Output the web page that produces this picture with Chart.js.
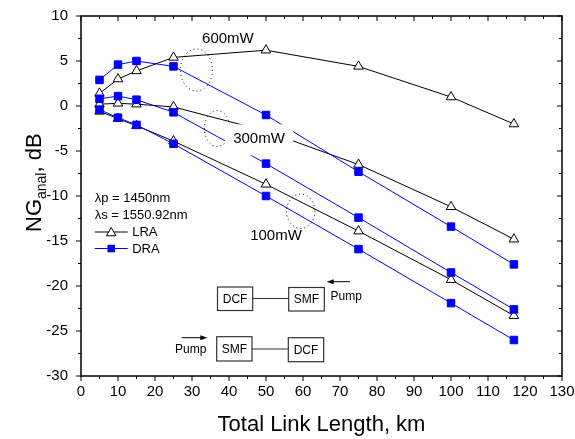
<!DOCTYPE html>
<html>
<head>
<meta charset="utf-8">
<script src="https://cdn.jsdelivr.net/npm/chart.js@4.4.1/dist/chart.umd.min.js"></script>
<style>
  html, body { margin: 0; padding: 0; background: #fff; }
  #wrap { width: 575px; height: 439px; }
</style>
</head>
<body>
<div id="wrap"><canvas id="ng" width="575" height="439"></canvas></div>
<script>
// link length (km) at which every curve was computed
const lengthKm = [5, 10, 15, 25, 50, 75, 100, 117];

// net gain, dB -- lumped (LRA) and distributed (DRA) Raman, per pump power
const lra600 = [1.4, 3.0, 3.9, 5.4, 6.2, 4.4, 1.0, -2.0];
const dra600 = [2.9, 4.6, 5.0, 4.4, -1.0, -7.3, -13.4, -17.6];
const lra300 = [0.2, 0.3, 0.2, -0.1, -2.8, -6.5, -11.2, -14.8];
const dra300 = [0.8, 1.1, 0.7, -0.7, -6.4, -12.4, -18.5, -22.6];
const lra100 = [-0.6, -1.4, -2.2, -3.9, -8.7, -13.9, -19.3, -23.3];
const dra100 = [-0.4, -1.3, -2.1, -4.2, -10.0, -15.9, -21.9, -26.0];

const xRange = [0, 130];
const yRange = [-30, 10];

const FONT = '"Liberation Sans", Arial, sans-serif';
const BLUE = '#0000ff';

function pts(vals) {
  return lengthKm.map((x, i) => ({ x: x, y: vals[i] }));
}

function dra(vals) {
  return {
    data: pts(vals), borderColor: BLUE, backgroundColor: BLUE,
    borderWidth: 1, pointStyle: 'rect', pointRadius: 5.3,
    pointBackgroundColor: BLUE, pointBorderColor: BLUE, pointBorderWidth: 1
  };
}
function lra(vals) {
  return {
    data: pts(vals), borderColor: '#000', backgroundColor: '#fff',
    borderWidth: 1, pointStyle: 'triangle', pointRadius: 5.5,
    pointBackgroundColor: '#fff', pointBorderColor: '#000', pointBorderWidth: 1
  };
}

// annotations anchored in data units
const powerLabels = [
  { text: '600mW', x: 39.7, y: 7.5, mask: false },
  { text: '300mW', x: 48.1, y: -3.6, mask: true },
  { text: '100mW', x: 52.7, y: -14.4, mask: false }
];
const ellipses = [
  { x: 31.2, y: 4.0, rx: 16, ry: 21 },
  { x: 36.8, y: -2.5, rx: 12.8, ry: 18 },
  { x: 59.4, y: -11.7, rx: 14.2, ry: 17.2 }
];

function triangle(ctx, x, y, r) {
  ctx.beginPath();
  for (let k = 0; k < 3; k++) {
    const a = k * 2 * Math.PI / 3;
    const px = x + Math.sin(a) * r, py = y - Math.cos(a) * r;
    if (k === 0) ctx.moveTo(px, py); else ctx.lineTo(px, py);
  }
  ctx.closePath();
  ctx.fillStyle = '#fff'; ctx.fill();
  ctx.strokeStyle = '#000'; ctx.lineWidth = 1; ctx.stroke();
}

function arrow(ctx, x1, x2, y) {
  const dir = Math.sign(x2 - x1);
  ctx.strokeStyle = '#000'; ctx.lineWidth = 1;
  ctx.beginPath(); ctx.moveTo(x1, y); ctx.lineTo(x2 - dir * 5, y); ctx.stroke();
  ctx.fillStyle = '#000';
  ctx.beginPath();
  ctx.moveTo(x2, y); ctx.lineTo(x2 - dir * 7, y - 2.5); ctx.lineTo(x2 - dir * 7, y + 2.5);
  ctx.closePath(); ctx.fill();
}

function box(ctx, x, y, w, h, label) {
  ctx.strokeStyle = '#333'; ctx.lineWidth = 1.2;
  ctx.strokeRect(x, y, w, h);
  ctx.fillStyle = '#000'; ctx.font = '12px ' + FONT;
  ctx.textAlign = 'center'; ctx.textBaseline = 'middle';
  ctx.fillText(label, x + w / 2, y + h / 2 + 0.5);
}

// scales report no label overflow so the plot box is set by padding alone
function noOverflow(s) {
  s.paddingTop = 0; s.paddingBottom = 0; s.paddingLeft = 0; s.paddingRight = 0;
}

const decorations = {
  id: 'decorations',
  afterDatasetsDraw(chart) {
    const ctx = chart.ctx, a = chart.chartArea;
    const sx = chart.scales.x, sy = chart.scales.y;
    const at = (x, y) => [sx.getPixelForValue(x), sy.getPixelForValue(y)];
    ctx.save();

    // dotted ellipses grouping each pump power
    ctx.setLineDash([1, 3]); ctx.lineWidth = 1; ctx.strokeStyle = '#000';
    ellipses.forEach(e => {
      const c = at(e.x, e.y);
      ctx.beginPath(); ctx.ellipse(c[0], c[1], e.rx, e.ry, 0, 0, 2 * Math.PI); ctx.stroke();
    });
    ctx.setLineDash([]);

    ctx.font = '15px ' + FONT; ctx.textAlign = 'center'; ctx.textBaseline = 'middle';
    powerLabels.forEach(l => {
      const c = at(l.x, l.y);
      if (l.mask) { ctx.fillStyle = '#fff'; ctx.fillRect(c[0] - 34, c[1] - 14, 68, 31); }
      ctx.fillStyle = '#000'; ctx.fillText(l.text, c[0], c[1]);
    });

    // legend block
    const lx = a.left + 13.7, ly = a.top;
    ctx.font = '13px ' + FONT; ctx.textAlign = 'left'; ctx.fillStyle = '#000';
    ctx.fillText('\u03bbp = 1450nm', lx, ly + 182.5);
    ctx.fillText('\u03bbs = 1550.92nm', lx, ly + 199.5);
    ctx.strokeStyle = '#000'; ctx.lineWidth = 1;
    ctx.beginPath(); ctx.moveTo(lx, ly + 216); ctx.lineTo(lx + 33, ly + 216); ctx.stroke();
    triangle(ctx, lx + 16.5, ly + 217, 5.5);
    ctx.fillStyle = '#000'; ctx.fillText('LRA', lx + 37.5, ly + 216.5);
    ctx.strokeStyle = BLUE;
    ctx.beginPath(); ctx.moveTo(lx, ly + 232.5); ctx.lineTo(lx + 33, ly + 232.5); ctx.stroke();
    ctx.fillStyle = BLUE; ctx.fillRect(lx + 12.8, ly + 228.8, 7.5, 7.5);
    ctx.fillStyle = '#000'; ctx.fillText('DRA', lx + 37.5, ly + 233);

    // span layouts: backward and forward pumping
    ctx.strokeStyle = '#333'; ctx.lineWidth = 1.2;
    ctx.beginPath(); ctx.moveTo(252.7, 298.5); ctx.lineTo(288.7, 298.5); ctx.stroke();
    box(ctx, 217.5, 287, 35.2, 23.5, 'DCF');
    box(ctx, 288.7, 287.5, 35.6, 23.5, 'SMF');
    arrow(ctx, 350, 326.7, 281.7);
    ctx.font = '12px ' + FONT; ctx.textAlign = 'left'; ctx.fillStyle = '#000';
    ctx.fillText('Pump', 330.5, 296.5);

    ctx.strokeStyle = '#333'; ctx.lineWidth = 1.2;
    ctx.beginPath(); ctx.moveTo(252, 349); ctx.lineTo(288.3, 349); ctx.stroke();
    box(ctx, 216.7, 336.7, 35.3, 24.3, 'SMF');
    box(ctx, 288.3, 337.7, 35.4, 24, 'DCF');
    arrow(ctx, 181.7, 207.3, 337.7);
    ctx.font = '12px ' + FONT; ctx.textAlign = 'left'; ctx.fillStyle = '#000';
    ctx.fillText('Pump', 175, 349.5);

    // frame and tick marks
    ctx.strokeStyle = '#000'; ctx.lineWidth = 1.5;
    ctx.strokeRect(a.left, a.top, a.right - a.left, a.bottom - a.top);
    ctx.lineWidth = 1;
    ctx.beginPath();
    for (let v = xRange[0]; v <= xRange[1]; v += 5) {
      const p = sx.getPixelForValue(v), len = v % 10 === 0 ? 5 : 3;
      ctx.moveTo(p, a.bottom); ctx.lineTo(p, a.bottom + len);
      ctx.moveTo(p, a.top); ctx.lineTo(p, a.top + len);
    }
    for (let v = yRange[0]; v <= yRange[1]; v += 2.5) {
      const p = sy.getPixelForValue(v), len = v % 5 === 0 ? 5 : 3;
      ctx.moveTo(a.left, p); ctx.lineTo(a.left - len, p);
      ctx.moveTo(a.right, p); ctx.lineTo(a.right - len, p);
    }
    ctx.stroke();

    // axis titles
    ctx.fillStyle = '#000';
    ctx.font = '22px ' + FONT; ctx.textAlign = 'center'; ctx.textBaseline = 'middle';
    ctx.fillText('Total Link Length, km', (a.left + a.right) / 2, 425);

    ctx.translate(41, 232);
    ctx.rotate(-Math.PI / 2);
    ctx.textAlign = 'left'; ctx.textBaseline = 'alphabetic';
    let cx = 0;
    ctx.font = '22px ' + FONT; ctx.fillText('NG', cx, 0); cx += ctx.measureText('NG').width;
    ctx.font = '14px ' + FONT; ctx.fillText('anal', cx, 5); cx += ctx.measureText('anal').width;
    ctx.font = '22px ' + FONT; ctx.fillText(', dB', cx, 0);
    ctx.restore();
  }
};

new Chart(document.getElementById('ng'), {
  type: 'line',
  data: {
    datasets: [dra(dra600), dra(dra300), dra(dra100), lra(lra600), lra(lra300), lra(lra100)]
  },
  options: {
    responsive: false,
    animation: false,
    layout: { padding: { top: 16, right: 13, left: 0, bottom: 0 } },
    plugins: { legend: { display: false }, tooltip: { enabled: false } },
    elements: { line: { tension: 0 } },
    scales: {
      x: {
        type: 'linear', min: xRange[0], max: xRange[1],
        grid: { display: false, drawTicks: false }, border: { display: false },
        ticks: { stepSize: 10, autoSkip: false, maxRotation: 0, padding: 7, color: '#000', font: { family: FONT, size: 15 } },
        afterFit: s => { s.height = 63; noOverflow(s); }
      },
      y: {
        type: 'linear', min: yRange[0], max: yRange[1],
        grid: { display: false, drawTicks: false }, border: { display: false },
        ticks: { stepSize: 5, padding: 13, color: '#000', font: { family: FONT, size: 15 } },
        afterFit: s => { s.width = 81; noOverflow(s); }
      }
    }
  },
  plugins: [decorations]
});
</script>
</body>
</html>
